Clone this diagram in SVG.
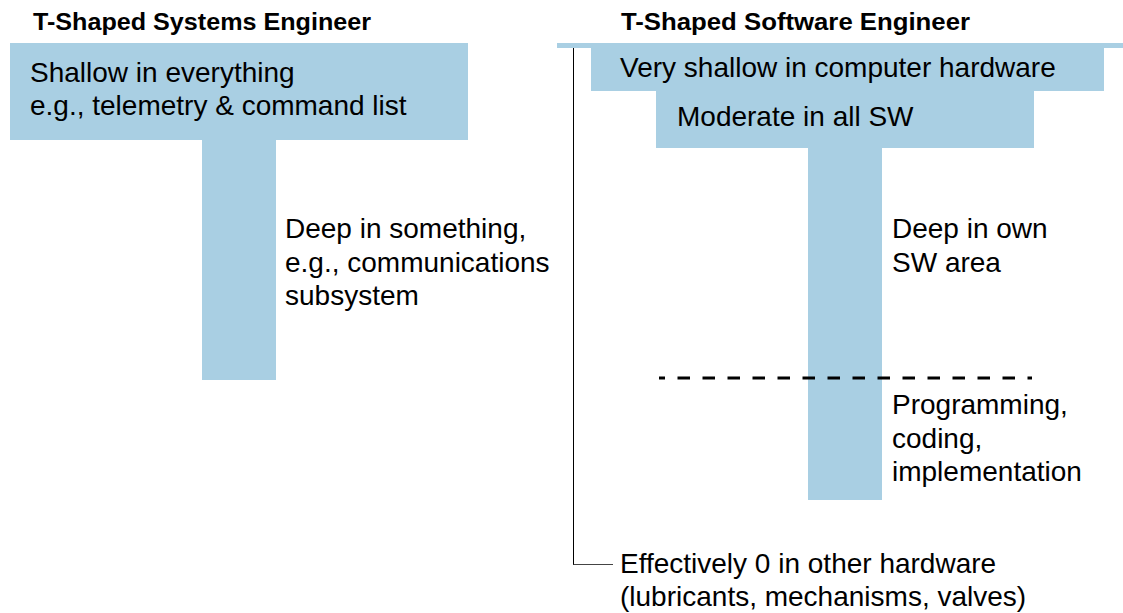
<svg xmlns="http://www.w3.org/2000/svg" width="1123" height="613" viewBox="0 0 1123 613">
<style>
.bar{fill:#a9cfe3}
.t{font-family:"Liberation Sans",Arial,sans-serif;font-size:28px;fill:#000}
.h{font-family:"Liberation Sans",Arial,sans-serif;font-size:23px;font-weight:bold;fill:#000}
</style>
<rect width="1123" height="613" fill="#fff"/>
<g id="title-systems"><text class="h" x="33" y="30" textLength="338" lengthAdjust="spacingAndGlyphs">T-Shaped Systems Engineer</text></g>
<g id="title-software"><text class="h" x="621" y="30" textLength="349" lengthAdjust="spacingAndGlyphs">T-Shaped Software Engineer</text></g>
<g id="sys-shallow">
<rect class="bar" x="10" y="43" width="458" height="97"/>
<text class="t" x="30" y="82">Shallow in everything</text>
<text class="t" x="30" y="115">e.g., telemetry &amp; command list</text>
</g>
<g id="sys-deep">
<rect class="bar" x="202" y="140" width="74" height="240"/>
<text class="t" x="285" y="238">Deep in something,</text>
<text class="t" x="285" y="272">e.g., communications</text>
<text class="t" x="285" y="305">subsystem</text>
</g>
<g id="sw-zero">
<rect class="bar" x="557" y="43" width="566" height="5"/>
<text class="t" x="620" y="573">Effectively 0 in other hardware</text>
<text class="t" x="620" y="606">(lubricants, mechanisms, valves)</text>
</g>
<g id="sw-hardware">
<rect class="bar" x="591" y="43" width="513" height="48"/>
<text class="t" x="620" y="77">Very shallow in computer hardware</text>
</g>
<g id="sw-moderate">
<rect class="bar" x="656" y="91" width="378" height="57"/>
<text class="t" x="677" y="126">Moderate in all SW</text>
</g>
<g id="sw-deep">
<rect class="bar" x="808" y="148" width="74" height="352"/>
<text class="t" x="892" y="238">Deep in own</text>
<text class="t" x="892" y="272">SW area</text>
<text class="t" x="892" y="414">Programming,</text>
<text class="t" x="892" y="448">coding,</text>
<text class="t" x="892" y="481">implementation</text>
</g>
<g id="connectors" fill="none">
<path d="M573.5 48 V565" stroke="#000" stroke-width="1"/>
<path d="M573.5 564.5 H613" stroke="#444" stroke-width="1"/>
<line x1="659" y1="378" x2="1032" y2="378" stroke="#000" stroke-width="3" stroke-dasharray="12.5 12.5" stroke-dashoffset="6.5"/>
</g>
</svg>
